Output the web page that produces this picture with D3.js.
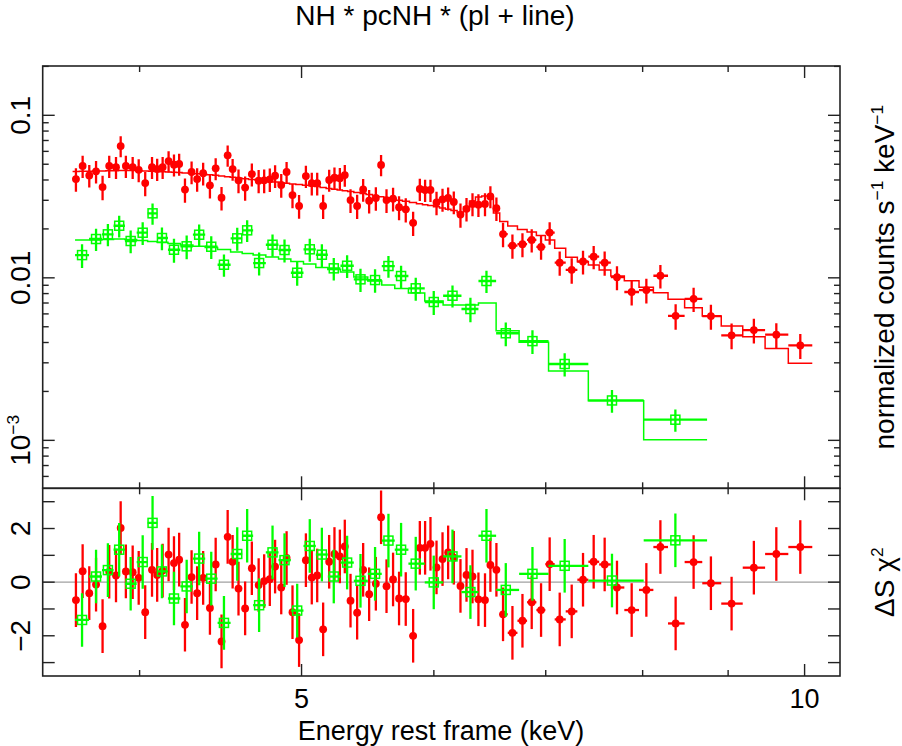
<!DOCTYPE html>
<html><head><meta charset="utf-8">
<script src="https://cdn.jsdelivr.net/npm/d3@7"></script>
<style>
body{margin:0;background:#fff}
svg{display:block}
text{font-family:"Liberation Sans",Arial,Helvetica,sans-serif;fill:#000}
</style>
</head><body>
<svg id="c" width="902" height="746"></svg>
<script>
// ---------- DATA (energies in keV, normalized counts s^-1 keV^-1) ----------
const title = "NH * pcNH * (pl + line)";
const xLabel = "Energy rest frame (keV)";
const xMajorTicks = [5, 10];
const xMinorTicks = [4, 6, 7, 8, 9];
const yTopMajorTicks = [0.1, 0.01, 0.001];
const yResTicks = [-3, -2, -1, 0, 1, 2, 3];
const yResLabels = [-2, 0, 2];

const redE = [3.664,3.698,3.732,3.767,3.801,3.836,3.872,3.897,3.925,3.962,
3.995,4.031,4.069,4.098,4.129,4.163,4.194,4.224,4.258,4.297,
4.330,4.366,4.407,4.442,4.478,4.516,4.547,4.584,4.626,4.669,
4.713,4.749,4.786,4.821,4.862,4.898,4.938,4.983,5.030,5.071,
5.109,5.151,5.194,5.232,5.271,5.307,5.349,5.398,5.443,5.488,
5.539,5.579,5.621,5.672,5.719,5.772,5.831,5.885,5.928,5.972,
6.022,6.072,6.119,6.167,6.224,6.276,6.328,6.380,6.438,6.486,
6.540,6.600,6.686,6.779,6.866,6.955,7.038,7.136,7.255,7.369,
7.478,7.592,7.722,7.880,8.041,8.198,8.372,8.582,8.789,9.043,
9.325,9.618,9.941];
const redFlux = [0.0405,0.0488,0.0427,0.0452,0.0362,0.0488,0.0479,0.0647,0.0488,0.0479,
0.0462,0.0383,0.0479,0.0467,0.0479,0.0523,0.0497,0.0502,0.0349,0.0448,
0.0405,0.0440,0.0371,0.0472,0.0311,0.0567,0.0467,0.0398,0.0359,0.0435,
0.0396,0.0398,0.0404,0.0425,0.0373,0.0448,0.0323,0.0277,0.0423,0.0382,
0.0382,0.0277,0.0400,0.0413,0.0410,0.0429,0.0301,0.0277,0.0350,0.0298,
0.0310,0.0495,0.0301,0.0307,0.0272,0.0264,0.0218,0.0352,0.0347,0.0347,
0.0291,0.0304,0.0310,0.0293,0.0245,0.0266,0.0285,0.0282,0.0285,0.0317,
0.0268,0.0186,0.0158,0.0161,0.0171,0.0155,0.0190,0.0124,0.0112,0.0126,
0.0135,0.0124,0.0101,0.00818,0.00841,0.0103,0.00584,0.00743,0.00582,0.00443,
0.00477,0.00447,0.00384];
const redErr = [0.0067,0.0076,0.0068,0.0072,0.0062,0.0076,0.0074,0.0095,0.0076,0.0074,
0.0074,0.0065,0.0074,0.0073,0.0074,0.0078,0.0077,0.0078,0.0059,0.0072,
0.0067,0.0070,0.0063,0.0073,0.0051,0.0085,0.0072,0.0066,0.0061,0.0070,
0.0065,0.0066,0.0067,0.0068,0.0062,0.0069,0.0055,0.0046,0.0066,0.0061,
0.0061,0.0047,0.0062,0.0064,0.0064,0.0066,0.0050,0.0047,0.0056,0.0049,
0.0051,0.0074,0.0050,0.0051,0.0046,0.0045,0.0037,0.0055,0.0054,0.0054,
0.0048,0.0049,0.0050,0.0047,0.0042,0.0044,0.0046,0.0045,0.0046,0.0049,
0.0044,0.0032,0.0027,0.0027,0.0028,0.0026,0.0030,0.0021,0.0020,0.0021,
0.0022,0.0021,0.0017,0.00143,0.00147,0.0017,0.00105,0.00126,0.00102,0.00080,
0.00083,0.00078,0.00067];
const redModel = [0.04510,0.04523,0.04529,0.04542,0.04542,0.04555,0.04561,0.04568,0.04574,0.04568,
0.04555,0.04542,0.04529,0.04510,0.04497,0.04478,0.04459,0.04440,0.04422,0.04397,
0.04372,0.04348,0.04310,0.04273,0.04231,0.04195,0.04160,0.04119,0.04073,0.04026,
0.03987,0.03947,0.03914,0.03886,0.03848,0.03816,0.03784,0.03751,0.03719,0.03683,
0.03641,0.03595,0.03550,0.03510,0.03470,0.03431,0.03392,0.03349,0.03303,0.03251,
0.03196,0.03151,0.03107,0.03054,0.03007,0.02956,0.02903,0.02858,0.02821,0.02782,
0.02735,0.02689,0.02640,0.02595,0.02522,0.02727,0.02969,0.03142,0.03187,0.03098,
0.02505,0.02221,0.02083,0.01983,0.01914,0.01821,0.01709,0.01519,0.01337,0.01256,
0.01199,0.01117,0.01026,0.00960,0.00874,0.00810,0.00737,0.00655,0.00582,0.00505,
0.00434,0.00368,0.00298];
const redResid = [-0.67,0.41,-0.41,-0.09,-1.64,0.39,0.25,2.02,0.40,0.37,
0.16,-1.12,0.46,0.27,0.43,1.03,0.71,0.84,-1.59,0.19,
-0.41,0.16,-0.96,0.66,-2.21,1.69,0.76,-0.24,-0.98,0.52,
-0.11,0.04,0.11,0.58,-0.20,0.90,-1.12,-2.16,0.82,0.17,
0.25,-1.76,0.76,1.05,0.96,1.33,-0.69,-1.14,0.46,-0.45,
-0.06,2.42,-0.15,0.10,-0.61,-0.63,-2.00,1.28,1.28,1.43,
0.55,0.86,1.11,0.91,-0.14,0.27,0.21,-0.64,-0.67,0.64,
0.46,-1.20,-1.89,-1.44,-0.75,-1.04,0.67,-1.39,-1.09,0.09,
0.76,0.66,-0.20,-1.04,-0.29,1.31,-1.54,0.75,-0.04,-0.80,
0.54,1.05,1.31];

const greenE = [3.695,3.767,3.829,3.889,3.951,4.017,4.072,4.125,4.194,4.268,
4.342,4.415,4.493,4.576,4.639,4.716,4.804,4.884,4.970,5.057,
5.142,5.227,5.324,5.423,5.533,5.636,5.735,5.852,5.999,6.156,
6.310,6.451,6.625,6.873,7.185,7.669,8.369];
const greenFlux = [0.0138,0.01733,0.01852,0.02092,0.01685,0.01895,0.02494,0.01758,0.01489,0.01563,
0.01842,0.01554,0.01204,0.01750,0.01960,0.01233,0.01598,0.01483,0.01075,0.01498,
0.01387,0.01144,0.01187,0.00979,0.00969,0.01182,0.01026,0.00862,0.00710,0.00776,
0.00643,0.00956,0.00456,0.00408,0.00295,0.00176,0.00134];
const greenErr = [0.0023,0.0027,0.0029,0.0032,0.0027,0.0030,0.0037,0.0028,0.0025,0.0026,
0.0029,0.0025,0.0019,0.0028,0.0030,0.0020,0.0025,0.0024,0.0018,0.0024,
0.0022,0.0018,0.0019,0.0016,0.0016,0.0018,0.0016,0.0014,0.0012,0.0012,
0.0011,0.0015,0.00076,0.00068,0.00048,0.00028,0.00021];
const greenModel = [0.01709,0.01709,0.01721,0.01733,0.01721,0.01696,0.01673,0.01654,0.01626,0.01592,
0.01563,0.01536,0.01493,0.01441,0.01411,0.01381,0.01343,0.01305,0.01260,0.01216,
0.01157,0.01125,0.01086,0.01011,0.00956,0.00903,0.00859,0.00806,0.00720,0.00680,
0.00680,0.00700,0.00473,0.00401,0.00267,0.00175,0.00101];
const greenResid = [-1.41,0.21,0.45,1.21,-0.06,0.75,2.21,0.40,-0.61,-0.16,
0.88,0.13,-1.52,1.05,1.73,-0.86,1.11,0.82,-1.06,1.35,
1.03,0.21,0.73,0.05,0.31,1.55,1.21,0.69,-0.01,0.96,
-0.37,1.73,-0.29,0.31,0.61,0.06,1.56];

// ---------- LAYOUT ----------
const svg = d3.select("#c");
const L = 42.7, R = 840, T = 66, M = 488.3, B = 676;
const RED = "#ff0000", GREEN = "#00ff00";

const x = d3.scaleLog().domain([3.5, 10.5]).range([L, R]);
const yTop = d3.scaleLog().domain([5.07e-4, 0.2011]).range([M, T]);
const yRes = d3.scaleLinear().domain([-3.5, 3.5]).range([B, M]);

function binEdges(E) {
  const n = E.length, e = new Array(n + 1);
  for (let i = 1; i < n; i++) e[i] = Math.sqrt(E[i - 1] * E[i]);
  e[0] = E[0] * E[0] / e[1];
  e[n] = E[n - 1] * E[n - 1] / e[n - 1];
  return e;
}

function makeSet(E, F, S, Mo, Re) {
  const e = binEdges(E);
  return E.map((en, i) => ({ e: en, lo: e[i], hi: e[i + 1], f: F[i], s: S[i], m: Mo[i], r: Re[i] }));
}
const red = makeSet(redE, redFlux, redErr, redModel, redResid);
const green = makeSet(greenE, greenFlux, greenErr, greenModel, greenResid);

// clip paths
const defs = svg.append("defs");
defs.append("clipPath").attr("id", "clipTop").append("rect")
  .attr("x", L).attr("y", T).attr("width", R - L).attr("height", M - T);
defs.append("clipPath").attr("id", "clipRes").append("rect")
  .attr("x", L).attr("y", M).attr("width", R - L).attr("height", B - M);

const gTop = svg.append("g").attr("clip-path", "url(#clipTop)");
const gRes = svg.append("g").attr("clip-path", "url(#clipRes)");

// zero line in residuals
gRes.append("line").attr("x1", L).attr("x2", R)
  .attr("y1", yRes(0)).attr("y2", yRes(0))
  .attr("stroke", "#a0a0a0").attr("stroke-width", 1.2);

function drawData(g, data, color, yv, ylo, yhi, marker) {
  const grp = g.append("g");
  grp.selectAll(".v").data(data).enter().append("line")
    .attr("x1", d => x(d.e)).attr("x2", d => x(d.e))
    .attr("y1", d => ylo(d)).attr("y2", d => yhi(d))
    .attr("stroke", color).attr("stroke-width", 2.3);
  grp.selectAll(".h").data(data).enter().append("line")
    .attr("x1", d => x(d.lo)).attr("x2", d => x(d.hi))
    .attr("y1", d => yv(d)).attr("y2", d => yv(d))
    .attr("stroke", color).attr("stroke-width", 2.3);
  if (marker === "circle") {
    grp.selectAll(".m").data(data).enter().append("circle")
      .attr("cx", d => x(d.e)).attr("cy", d => yv(d)).attr("r", 3.9)
      .attr("fill", color);
  } else {
    const s = 9;
    grp.selectAll(".m").data(data).enter().append("rect")
      .attr("x", d => x(d.e) - s / 2).attr("y", d => yv(d) - s / 2)
      .attr("width", s).attr("height", s)
      .attr("fill", "none").attr("stroke", color).attr("stroke-width", 1.5);
  }
}

function drawModel(g, data, color) {
  const pts = [];
  data.forEach(d => { pts.push([d.lo, d.m]); pts.push([d.hi, d.m]); });
  g.append("path").datum(pts)
    .attr("d", d3.line().x(p => x(p[0])).y(p => yTop(p[1])))
    .attr("fill", "none").attr("stroke", color).attr("stroke-width", 1.5);
}

// top panel
drawData(gTop, red, RED, d => yTop(d.f), d => yTop(d.f - d.s), d => yTop(d.f + d.s), "circle");
drawModel(gTop, red, RED);
drawData(gTop, green, GREEN, d => yTop(d.f), d => yTop(d.f - d.s), d => yTop(d.f + d.s), "square");
drawModel(gTop, green, GREEN);

// residual panel
drawData(gRes, red, RED, d => yRes(d.r), d => yRes(d.r - 1), d => yRes(d.r + 1), "circle");
drawData(gRes, green, GREEN, d => yRes(d.r), d => yRes(d.r - 1), d => yRes(d.r + 1), "square");

// ---------- FRAMES & TICKS ----------
const axisColor = "#222";
const fr = svg.append("g").attr("fill", "none").attr("stroke", axisColor).attr("stroke-width", 1.6);
fr.append("rect").attr("x", L).attr("y", T).attr("width", R - L).attr("height", M - T);
fr.append("rect").attr("x", L).attr("y", M).attr("width", R - L).attr("height", B - M);

const tk = svg.append("g").attr("stroke", axisColor).attr("stroke-width", 1.4);
const MAJ = 12, MIN = 6;
function xTicks(vals, len) {
  vals.forEach(v => {
    const xx = x(v);
    [[T, 1], [M, -1], [M, 1], [B, -1]].forEach(([yy, dir]) => {
      tk.append("line").attr("x1", xx).attr("x2", xx).attr("y1", yy).attr("y2", yy + dir * len);
    });
  });
}
xTicks(xMajorTicks, MAJ);
xTicks(xMinorTicks, MIN);

function yTick(yy, len) {
  tk.append("line").attr("x1", L).attr("x2", L + len).attr("y1", yy).attr("y2", yy);
  tk.append("line").attr("x1", R).attr("x2", R - len).attr("y1", yy).attr("y2", yy);
}
const [ylo, yhi] = yTop.domain();
yTopMajorTicks.forEach(v => yTick(yTop(v), MAJ));
[1e-4, 1e-3, 1e-2, 1e-1].forEach(dec => {
  for (let k = 2; k <= 9; k++) {
    const v = dec * k;
    if (v >= ylo && v <= yhi) yTick(yTop(v), MIN);
  }
});
yResTicks.forEach(v => yTick(yRes(v), MAJ));

// ---------- TEXT ----------
const FS = 28, FT = 27;
svg.append("text").attr("x", 435).attr("y", 25).attr("text-anchor", "middle")
  .attr("font-size", FS).text(title);
svg.append("text").attr("x", 441).attr("y", 740).attr("text-anchor", "middle")
  .attr("font-size", FT).text(xLabel);

xMajorTicks.forEach(v => {
  svg.append("text").attr("x", x(v)).attr("y", 708).attr("text-anchor", "middle")
    .attr("font-size", FT).text(String(v));
});

function rotLabel(xx, yy, fs) {
  return svg.append("text").attr("transform", `translate(${xx},${yy}) rotate(-90)`)
    .attr("text-anchor", "middle").attr("font-size", fs);
}
// top y labels
rotLabel(30, yTop(0.1), FS).text("0.1");
rotLabel(30, yTop(0.01), FS).text("0.01");
{
  const t = rotLabel(30, yTop(0.001), FS);
  t.append("tspan").text("10");
  t.append("tspan").attr("dy", -11).attr("font-size", FS * 0.62).text("\u22123");
}
yResLabels.forEach(v => {
  rotLabel(30, yRes(v), FS).text(v < 0 ? "\u2212" + Math.abs(v) : String(v));
});

// right labels
{
  const t = rotLabel(894, (T + M) / 2, FS);
  t.append("tspan").text("normalized counts s");
  t.append("tspan").attr("dy", -11).attr("font-size", FS * 0.62).text("\u22121");
  t.append("tspan").attr("dy", 11).text(" keV");
  t.append("tspan").attr("dy", -11).attr("font-size", FS * 0.62).text("\u22121");
}
{
  const t = rotLabel(894, (M + B) / 2, FS);
  t.append("tspan").text("\u0394S \u03c7");
  t.append("tspan").attr("dy", -11).attr("font-size", FS * 0.62).text("2");
}
</script>
</body></html>
